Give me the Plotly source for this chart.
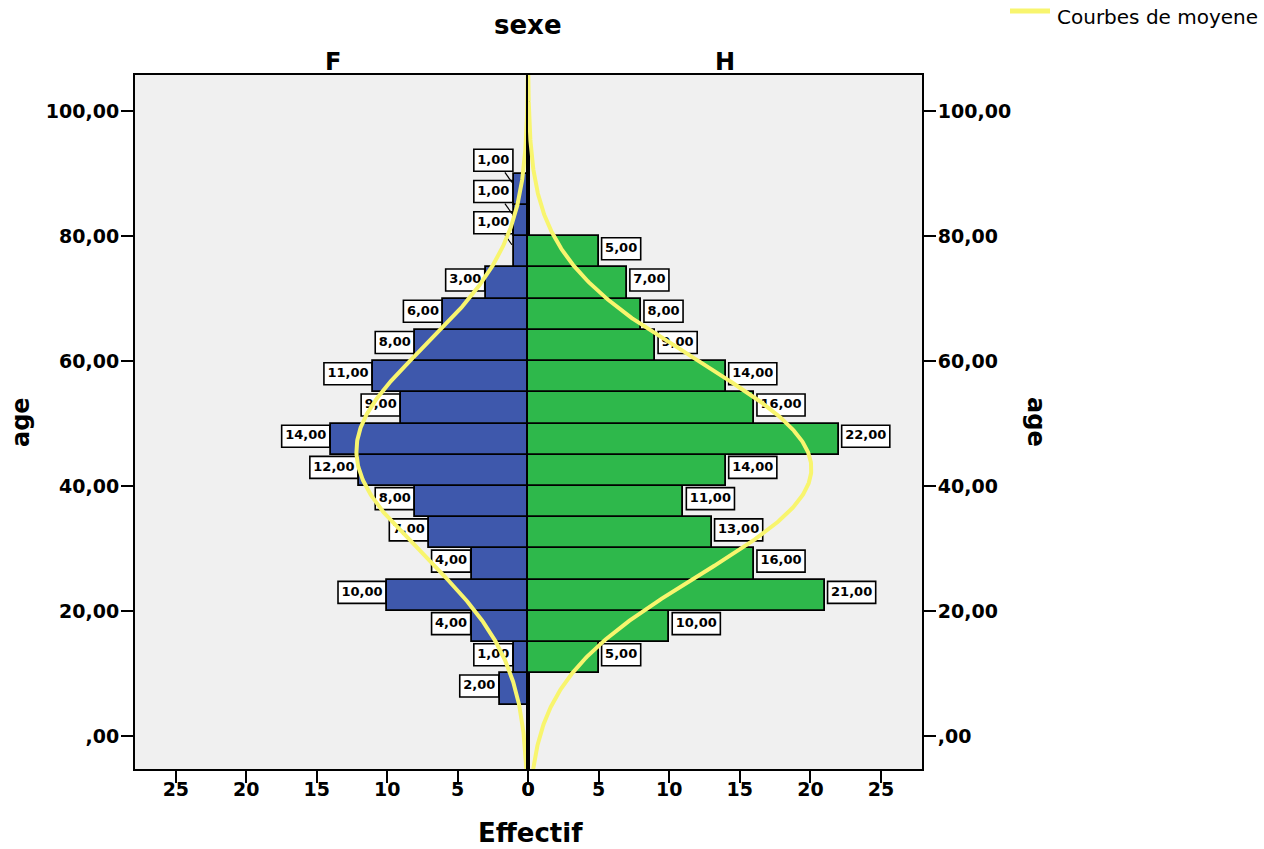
import numpy as np
import plotly.graph_objects as go

# ---------------- data ----------------
age_lo_f = [5, 10, 15, 20, 25, 30, 35, 40, 45, 50, 55, 60, 65, 70, 75, 80, 85]
count_f = [2, 1, 4, 10, 4, 7, 8, 12, 14, 9, 11, 8, 6, 3, 1, 1, 1]
age_lo_h = [10, 15, 20, 25, 30, 35, 40, 45, 50, 55, 60, 65, 70, 75]
count_h = [5, 10, 21, 16, 13, 11, 14, 22, 16, 14, 9, 8, 7, 5]
BIN = 5
MEAN_F, SD_F = 45.6, 16.7
MEAN_H, SD_H = 42.8, 17.0
y_ticks = [0, 20, 40, 60, 80, 100]
y_tick_text = [",00", "20,00", "40,00", "60,00", "80,00", "100,00"]
x_ticks = [0, 5, 10, 15, 20, 25]
x_tick_text = ["0", "5", "10", "15", "20", "25"]
legend_label = "Courbes de moyene"

# ---------------- style / layout constants ----------------
W, H = 1264, 849
PX_L, PX_M, PX_R = 135, 528, 922
PY_T, PY_B = 75, 769
XR = 27.9
YR = [-5.3, 105.8]
FONT = "DejaVu Sans"
BLUE = "#3E58AC"
GREEN = "#2EB84B"
YELLOW = "#F8F56E"
BG = "#F0F0F0"

ppx_l = (PX_M - PX_L) / XR
ppx_r = (PX_R - PX_M) / XR
ppy = (PY_B - PY_T) / (YR[1] - YR[0])

def fmt(v):
    return f"{v},00"

def text_w(s, size=12):
    w = 0
    for ch in s:
        w += 0.38 if ch == "," else 0.696
    return w * size

fig = go.Figure()

mid_f = [a + BIN / 2 for a in age_lo_f]
mid_h = [a + BIN / 2 for a in age_lo_h]

fig.add_trace(go.Bar(x=count_f, y=mid_f, orientation="h", width=BIN,
                     marker=dict(color=BLUE, line=dict(color="black", width=1.8)),
                     xaxis="x", yaxis="y", showlegend=False, hoverinfo="skip"))
fig.add_trace(go.Bar(x=count_h, y=mid_h, orientation="h", width=BIN,
                     marker=dict(color=GREEN, line=dict(color="black", width=1.8)),
                     xaxis="x2", yaxis="y2", showlegend=False, hoverinfo="skip"))

shapes = []
BOX_H = 22
UP = 3
LAB_SIZE = 13
# female labels (stacked with leader lines for the top 3 small bars)
tf_x, tf_y, tf_t = [], [], []
n_f = len(count_f)
for i, (v, m) in enumerate(zip(count_f, mid_f)):
    s = fmt(v)
    bw = text_w(s, LAB_SIZE) + 7
    stacked = i >= n_f - 3
    gap = 1
    up = 29 if stacked else UP
    shapes.append(dict(type="rect", xref="x", yref="y", xsizemode="pixel", ysizemode="pixel",
                       xanchor=v, yanchor=m, x0=-gap - bw, x1=-gap,
                       y0=up - BOX_H / 2, y1=up + BOX_H / 2,
                       fillcolor="white", line=dict(color="black", width=1.6), layer="below"))
    if stacked:
        shapes.append(dict(type="line", xref="x", yref="y", xsizemode="pixel", ysizemode="pixel",
                           xanchor=v, yanchor=m, x0=-9, x1=-2, y0=17, y1=7,
                           line=dict(color="black", width=1.2), layer="below"))
    tf_x.append(v + (gap + bw / 2) / ppx_l)
    tf_y.append(m + up / ppy)
    tf_t.append(s)

th_x, th_y, th_t = [], [], []
for v, m in zip(count_h, mid_h):
    s = fmt(v)
    bw = text_w(s, LAB_SIZE) + 7
    gap = 3
    shapes.append(dict(type="rect", xref="x2", yref="y2", xsizemode="pixel", ysizemode="pixel",
                       xanchor=v, yanchor=m, x0=gap, x1=gap + bw,
                       y0=UP - BOX_H / 2, y1=UP + BOX_H / 2,
                       fillcolor="white", line=dict(color="black", width=1.6), layer="below"))
    th_x.append(v + (gap + bw / 2) / ppx_r)
    th_y.append(m + UP / ppy)
    th_t.append(s)

lab_font = dict(family=FONT, size=LAB_SIZE, color="black", weight="bold")
fig.add_trace(go.Scatter(x=tf_x, y=tf_y, text=tf_t, mode="text", textposition="middle center",
                         textfont=lab_font, xaxis="x", yaxis="y", showlegend=False, hoverinfo="skip"))
fig.add_trace(go.Scatter(x=th_x, y=th_y, text=th_t, mode="text", textposition="middle center",
                         textfont=lab_font, xaxis="x2", yaxis="y2", showlegend=False, hoverinfo="skip"))

# normal curves
ages = np.linspace(YR[0], YR[1], 600)
def normal_counts(n, mu, sd):
    return n * BIN * np.exp(-0.5 * ((ages - mu) / sd) ** 2) / (sd * np.sqrt(2 * np.pi))

fig.add_trace(go.Scatter(x=normal_counts(sum(count_f), MEAN_F, SD_F), y=ages, mode="lines",
                         line=dict(color=YELLOW, width=4), name=legend_label,
                         xaxis="x", yaxis="y", showlegend=False, hoverinfo="skip"))
fig.add_trace(go.Scatter(x=normal_counts(sum(count_h), MEAN_H, SD_H), y=ages, mode="lines",
                         line=dict(color=YELLOW, width=4), name=legend_label,
                         xaxis="x2", yaxis="y2", showlegend=False, hoverinfo="skip"))

# legend key (line + text) at top right
shapes.append(dict(type="line", xref="paper", yref="paper", x0=1010 / W, x1=1050 / W,
                   y0=1 - 11 / H, y1=1 - 11 / H, line=dict(color=YELLOW, width=5)))

tick_font = dict(family=FONT, size=19, color="black", weight="bold")
dom_y = [1 - PY_B / H, 1 - PY_T / H]
axis_common = dict(showgrid=False, zeroline=False, showline=True, linecolor="black", linewidth=2,
                   mirror=True, ticks="outside", ticklen=12, tickwidth=2, tickcolor="black",
                   tickfont=tick_font, fixedrange=True, automargin=False)

def ann(text, px, py, size, angle=0, weight="bold", xanchor="center"):
    return dict(text=text, x=px / W, y=1 - py / H, xref="paper", yref="paper", showarrow=False,
                xanchor=xanchor, yanchor="middle", textangle=angle,
                font=dict(family=FONT, size=size, color="black", weight=weight))

fig.update_layout(
    width=W, height=H, autosize=False,
    margin=dict(l=0, r=0, t=0, b=0),
    paper_bgcolor="white", plot_bgcolor=BG,
    xaxis=dict(domain=[PX_L / W, PX_M / W], range=[XR, 0], tickvals=x_ticks, ticktext=x_tick_text,
               anchor="y", ticklabelstandoff=-10, **axis_common),
    xaxis2=dict(domain=[PX_M / W, PX_R / W], range=[0, XR], tickvals=x_ticks, ticktext=x_tick_text,
                anchor="y2", ticklabelstandoff=-10, **axis_common),
    yaxis=dict(domain=dom_y, range=YR, tickvals=y_ticks, ticktext=y_tick_text, anchor="x",
               side="left", ticklabelstandoff=-2, **axis_common),
    yaxis2=dict(domain=dom_y, range=YR, tickvals=y_ticks, ticktext=y_tick_text, anchor="x2",
                side="right", ticklabelstandoff=-2, **axis_common),
    shapes=shapes,
    showlegend=False,
    annotations=[
        ann("sexe", 528, 25, 26),
        ann("F", 333, 62, 24),
        ann("H", 725, 62, 24),
        ann("Effectif", 530, 833, 26),
        ann("age", 21, 422, 24, angle=-90),
        ann("age", 1036, 422, 24, angle=90),
        ann(legend_label, 1055, 17, 20, weight="normal", xanchor="left"),
    ],
    bargap=0,
)

fig.write_html("out.html", config={"displayModeBar": False},
               post_script="document.body.style.margin='0';document.body.style.overflow='hidden';")
